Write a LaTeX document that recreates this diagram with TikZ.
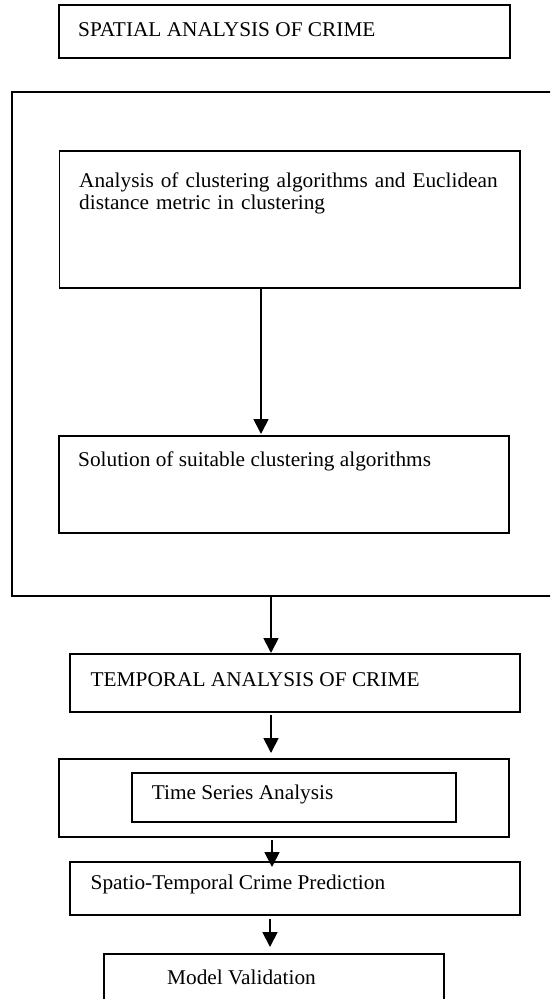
\documentclass[tikz,border=0pt]{standalone}
\usepackage{fontspec}
\setmainfont{Liberation Serif}[FakeStretch=1.015]
\usetikzlibrary{arrows.meta,calc}
\begin{document}
\begin{tikzpicture}[x=1pt,y=-1pt,
  box/.style={draw, line width=1.8pt, inner sep=0pt, anchor=north west},
  lbl/.style={anchor=base west, inner sep=0pt, font=\fontsize{21}{22}\selectfont},
  arr/.style={line width=1.8pt, -{Triangle[length=15pt,width=15pt]}}]
\useasboundingbox (0,0) rectangle (550,999);
\clip (0,0) rectangle (550,999);
% boxes
\node[box, minimum width=451pt, minimum height=53pt] (spatial) at (58,4) {};
\node[box, minimum width=560pt, minimum height=504pt] (outer) at (11,91) {};
\node[box, minimum width=460.4pt, minimum height=137pt] (boxA) at (58.6,150) {};
\node[box, minimum width=450pt, minimum height=97pt] (boxB) at (58,435) {};
\node[box, minimum width=450pt, minimum height=58pt] (temporal) at (69,653) {};
\node[box, minimum width=450pt, minimum height=78pt] (tsouter) at (58,758) {};
\node[box, minimum width=324pt, minimum height=49pt] (tsinner) at (131,772) {};
\node[box, minimum width=450pt, minimum height=53pt] (spatio) at (69,861) {};
\node[box, minimum width=340pt, minimum height=70pt] (mv) at (103,953) {};
% texts
\node[lbl] (tspatial) at (78,36) {SPATIAL ANALYSIS OF CRIME};
\node[lbl, text width=440pt, align=left] (tA) at (79,187) {Analysis of clustering algorithms and Euclidean\\distance metric in clustering};
\node[lbl] (tB) at (78,466) {Solution of suitable clustering algorithms};
\node[lbl] (ttemporal) at (90.5,686) {TEMPORAL ANALYSIS OF CRIME};
\node[lbl] (tts) at (151.6,799) {Time Series Analysis};
\node[lbl] (tspatio) at (90.5,889) {Spatio-Temporal Crime Prediction};
\node[lbl] (tmv) at (167,984) {Model Validation};
% arrows
\coordinate (c1) at (261,0);
\coordinate (c2) at (271,0);
\coordinate (c3) at (272,0);
\coordinate (c4) at (270,0);
\draw[arr] (boxA.south -| c1) -- ([yshift=1pt]boxB.north -| c1);
\draw[arr] (outer.south -| c2) -- (temporal.north -| c2);
\draw[arr] ([yshift=-2pt]temporal.south -| c2) -- ([yshift=5pt]tsouter.north -| c2);
\draw[arr] ([yshift=-2pt]tsouter.south -| c3) -- ([yshift=-6pt]spatio.north -| c3);
\draw[arr] ([yshift=-3pt]spatio.south -| c4) -- ([yshift=6pt]mv.north -| c4);
\end{tikzpicture}
\end{document}
